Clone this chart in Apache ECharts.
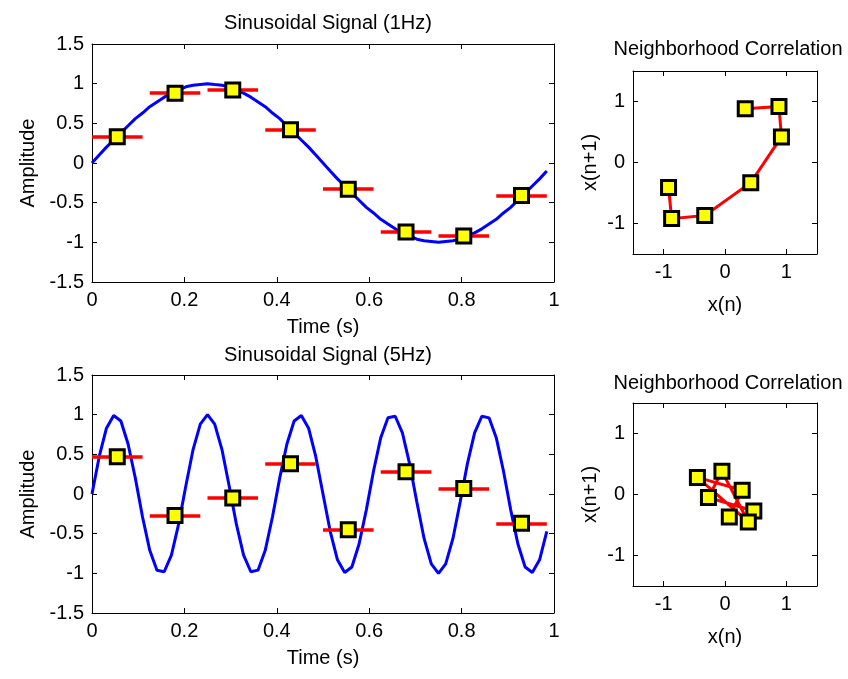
<!DOCTYPE html>
<html>
<head>
<meta charset="utf-8">
<script src="https://cdn.jsdelivr.net/npm/echarts@6/dist/echarts.min.js"></script>
<style>
html,body{margin:0;padding:0;background:#fff;}
#c{width:848px;height:679px;}
</style>
</head>
<body>
<div id="c"></div>
<script>
// ---- data ----
var sampleTimes = [0, .0156, .0313, .0469, .0625, .0781, .0938, .1094, .125, .1406, .1563, .1719, .1875, .2031, .2188, .2344,
  .25, .2656, .2813, .2969, .3125, .3281, .3438, .3594, .375, .3906, .4063, .4219, .4375, .4531, .4688, .4844,
  .5, .5156, .5313, .5469, .5625, .5781, .5938, .6094, .625, .6406, .6563, .6719, .6875, .7031, .7188, .7344,
  .75, .7656, .7813, .7969, .8125, .8281, .8438, .8594, .875, .8906, .9063, .9219, .9375, .9531, .9688, .9844];

var signal1Hz = [0, 0.10, 0.20, 0.29, 0.38, 0.47, 0.56, 0.63, 0.71, 0.77, 0.83, 0.88, 0.92, 0.96, 0.98, 0.99,
  1.00, 0.99, 0.98, 0.96, 0.92, 0.88, 0.83, 0.77, 0.71, 0.63, 0.56, 0.47, 0.38, 0.29, 0.20, 0.10,
  0, -0.10, -0.20, -0.29, -0.38, -0.47, -0.56, -0.63, -0.71, -0.77, -0.83, -0.88, -0.92, -0.96, -0.98, -0.99,
  -1.00, -0.99, -0.98, -0.96, -0.92, -0.88, -0.83, -0.77, -0.71, -0.63, -0.56, -0.47, -0.38, -0.29, -0.20, -0.10];

var signal5Hz = [0, 0.47, 0.83, 0.99, 0.92, 0.63, 0.20, -0.29, -0.71, -0.96, -0.98, -0.77, -0.38, 0.10, 0.56, 0.88,
  1.00, 0.88, 0.56, 0.10, -0.38, -0.77, -0.98, -0.96, -0.71, -0.29, 0.20, 0.63, 0.92, 0.99, 0.83, 0.47,
  0, -0.47, -0.83, -0.99, -0.92, -0.63, -0.20, 0.29, 0.71, 0.96, 0.98, 0.77, 0.38, -0.10, -0.56, -0.88,
  -1.00, -0.88, -0.56, -0.10, 0.38, 0.77, 0.98, 0.96, 0.71, 0.29, -0.20, -0.63, -0.92, -0.99, -0.83, -0.47];

var blockStart  = [0, 0.125, 0.25, 0.375, 0.5, 0.625, 0.75, 0.875];
var blockEnd    = [0.1094, 0.2344, 0.3594, 0.4844, 0.6094, 0.7344, 0.8594, 0.9844];
var blockCenter = [0.0547, 0.1797, 0.3047, 0.4297, 0.5547, 0.6797, 0.8047, 0.9297];
var blockMean1Hz = [0.33, 0.88, 0.92, 0.42, -0.33, -0.87, -0.92, -0.41];
var blockMean5Hz = [0.47, -0.27, -0.05, 0.38, -0.45, 0.28, 0.07, -0.37];

var timeTicks = [0, 0.2, 0.4, 0.6, 0.8, 1];
var ampTicks = [-1.5, -1, -0.5, 0, 0.5, 1, 1.5];
var corrTicks = [-1, 0, 1];

// ---- build ----
var FONT = 'Liberation Sans, Arial, sans-serif';
var FS = 20;
function zip(a, b) { return a.map(function (v, i) { return [v, b[i]]; }); }
function segs(means) {
  return means.map(function (m, i) { return { coords: [[blockStart[i], m], [blockEnd[i], m]] }; });
}
function pairs(means) {
  var out = [];
  for (var i = 0; i < means.length - 1; i++) out.push([means[i], means[i + 1]]);
  return out;
}

var grids = [
  { left: 92, top: 44, width: 462, height: 238 },
  { left: 633, top: 71, width: 184, height: 183 },
  { left: 92, top: 375, width: 462, height: 238 },
  { left: 633, top: 403, width: 184, height: 183 }
];

var axLine = { show: true, onZero: false, lineStyle: { color: '#000', width: 1 } };
var tickIn = { show: true, inside: true, length: 5, lineStyle: { color: '#000', width: 1 } };
var lab = { color: '#000', fontFamily: FONT, fontSize: FS };

var xAxes = [], yAxes = [];
grids.forEach(function (g, gi) {
  var isTime = (gi % 2 === 0);
  var xb = {
    gridIndex: gi, type: 'value', min: isTime ? 0 : -1.5, max: isTime ? 1 : 1.5,
    splitLine: { show: false }, axisLine: axLine
  };
  var yb = {
    gridIndex: gi, type: 'value', min: -1.5, max: 1.5,
    splitLine: { show: false }, axisLine: axLine
  };
  var xTickVals = isTime ? timeTicks : corrTicks;
  var yTickVals = isTime ? ampTicks : corrTicks;
  xAxes.push(Object.assign({}, xb, {
    position: 'bottom',
    name: isTime ? 'Time (s)' : 'x(n)', nameLocation: 'middle', nameGap: isTime ? 35 : 41,
    nameTextStyle: { color: '#000', fontFamily: FONT, fontSize: FS },
    axisTick: Object.assign({}, tickIn, { customValues: xTickVals }),
    axisLabel: Object.assign({}, lab, { margin: 8, customValues: xTickVals })
  }));
  xAxes.push(Object.assign({}, xb, {
    position: 'top',
    axisTick: Object.assign({}, tickIn, { customValues: xTickVals }),
    axisLabel: { show: false }
  }));
  yAxes.push(Object.assign({}, yb, {
    position: 'left',
    name: isTime ? 'Amplitude' : 'x(n+1)', nameLocation: 'middle', nameGap: isTime ? 53 : 33,
    nameRotate: 90,
    nameTextStyle: { color: '#000', fontFamily: FONT, fontSize: FS },
    axisTick: Object.assign({}, tickIn, { customValues: yTickVals }),
    axisLabel: Object.assign({}, lab, { margin: 8, customValues: yTickVals })
  }));
  yAxes.push(Object.assign({}, yb, {
    position: 'right',
    axisTick: Object.assign({}, tickIn, { customValues: yTickVals }),
    axisLabel: { show: false }
  }));
});

var sqStyle = { color: '#ffff00', borderColor: '#000', borderWidth: 3, opacity: 1 };

function timeSeries(gi, sig, means) {
  var xi = gi * 2, yi = gi * 2;
  return [
    { type: 'line', xAxisIndex: xi, yAxisIndex: yi, data: zip(sampleTimes, sig), showSymbol: false,
      lineStyle: { color: '#0000ff', width: 3 }, z: 2, silent: true },
    { type: 'lines', coordinateSystem: 'cartesian2d', xAxisIndex: xi, yAxisIndex: yi, data: segs(means),
      lineStyle: { color: '#ff0000', width: 3.5, opacity: 1 }, z: 3, silent: true },
    { type: 'scatter', xAxisIndex: xi, yAxisIndex: yi, data: zip(blockCenter, means), symbol: 'rect',
      symbolSize: 14, itemStyle: sqStyle, z: 4, silent: true }
  ];
}
function corrSeries(gi, means) {
  var xi = gi * 2, yi = gi * 2;
  return [
    { type: 'line', xAxisIndex: xi, yAxisIndex: yi, data: pairs(means), symbol: 'rect', symbolSize: 14,
      showSymbol: true, lineStyle: { color: '#ff0000', width: 3 }, itemStyle: sqStyle, z: 3, silent: true }
  ];
}

var series = [].concat(
  timeSeries(0, signal1Hz, blockMean1Hz),
  corrSeries(1, blockMean1Hz),
  timeSeries(2, signal5Hz, blockMean5Hz),
  corrSeries(3, blockMean5Hz)
);

var titleStyle = { color: '#000', fontFamily: FONT, fontSize: FS, fontWeight: 'normal' };
var option = {
  animation: false,
  backgroundColor: '#fff',
  title: [
    { text: 'Sinusoidal Signal (1Hz)', left: 323, top: 8, textAlign: 'center', textStyle: titleStyle },
    { text: 'Neighborhood Correlation', left: 723, top: 34, textAlign: 'center', textStyle: titleStyle },
    { text: 'Sinusoidal Signal (5Hz)', left: 323, top: 340, textAlign: 'center', textStyle: titleStyle },
    { text: 'Neighborhood Correlation', left: 723, top: 368, textAlign: 'center', textStyle: titleStyle }
  ],
  grid: grids,
  xAxis: xAxes,
  yAxis: yAxes,
  series: series
};

var chart = echarts.init(document.getElementById('c'), null, { renderer: 'canvas' });
chart.setOption(option);
</script>
</body>
</html>
